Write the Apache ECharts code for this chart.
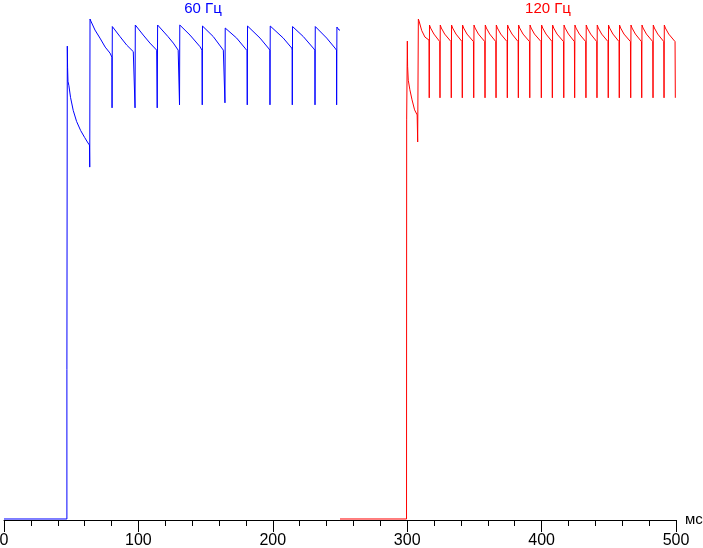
<!DOCTYPE html>
<html>
<head>
<meta charset="utf-8">
<script src="https://cdn.jsdelivr.net/npm/echarts@6/dist/echarts.min.js"></script>
<style>html,body{margin:0;padding:0;background:#fff}#c{width:703px;height:548px}</style>
</head>
<body>
<div id="c"></div>
<script>
// time axis ticks (ms)
var xTicks = [0, 100, 200, 300, 400, 500];
var xUnit = 'мс';
var seriesNames = ['60 Гц', '120 Гц'];

// 60 Hz response: [time ms, brightness %]
var blue60 = [
  [0,0.2],[46.8,0.2],[46.8,30],[47.1,94.4],[47.3,90.2],[47.6,87.4],[48.3,86.5],[49.5,84.2],
  [51.5,81.6],[54,79.4],[57,77.6],[60,76.2],[62.5,75.1],[63.6,74.7],[63.8,70.3],
  [64,99.8],[64.6,99.4],[67.7,97.6],[71.4,96.0],[75.3,94.2],[78.9,93.0],[80.3,92.2],[80.4,82.1],
  [80.6,98.3],[81.3,98.2],[86.3,96.3],[91.3,94.6],[96.2,93.3],[97.4,93.0],[97.5,82.1],
  [97.7,98.6],[98.2,98.4],[103.6,96.6],[108.6,95.0],[113.6,93.6],[114.0,82.1],
  [114.3,98.6],[114.8,98.5],[119,97.2],[122,96.3],[126,95.0],[129.6,93.6],[130.6,82.7],
  [130.8,98.6],[131.7,98.4],[138.4,96.6],[145.8,94.3],[147.3,93.6],[147.5,82.7],
  [147.7,98.4],[148.3,98.4],[155.7,96.3],[163.2,93.6],[164.3,93.3],[164.4,83.1],
  [164.6,98.0],[165.2,98.0],[173.1,96.0],[179.3,94.0],[180.8,93.5],[181.0,82.7],
  [181.2,98.4],[181.8,98.4],[190.5,96.0],[196.7,94.0],[197.8,93.6],[197.9,82.7],
  [198.1,98.4],[198.4,98.4],[207.8,96.0],[214.1,94.0],[214.4,93.6],[214.5,82.7],
  [214.7,98.3],[215.3,98.3],[222.7,96.3],[230.1,94.0],[231.3,93.6],[231.4,82.7],
  [231.6,98.3],[231.9,98.3],[240.1,96.0],[246.3,94.0],[247.4,93.6],[247.5,82.7],
  [247.7,98.2],[248.3,98.2],[249.3,97.6],[250,97.6]
];

// 120 Hz response: [time ms, brightness %]
var red120 = [
  [250,0.2],[299.5,0.2],[299.6,79.7],[299.9,79.7],[300.1,95.4],[300.3,90.4],[300.8,87.6],
  [302,85.7],[303.6,83.7],[305.5,81.7],[307.4,80.7],[307.8,75.3],
  [308.3,99.8],[308.8,99.4],[310.8,97.5],[313.2,96.2],[316.2,95.6],[316.4,84.1],
  [316.6,98.6],[317.4,98.0],[319.9,96.8],[324.2,95.3],[324.4,84.1],
  [324.6,98.6],[325.4,98.0],[327.9,96.8],[332.6,95.3],[332.8,84.1],
  [333.0,98.6],[333.8,98.0],[336.3,96.8],[340.8,95.3],[341.0,84.1],
  [341.2,98.6],[342.0,98.0],[344.5,96.8],[349.3,95.3],[349.5,84.1],
  [349.7,98.6],[350.5,98.0],[353.0,96.8],[357.7,95.3],[357.9,84.1],
  [358.1,98.6],[358.9,98.0],[361.4,96.8],[365.9,95.3],[366.1,84.1],
  [366.3,98.6],[367.1,98.0],[369.6,96.8],[374.3,95.3],[374.5,84.1],
  [374.7,98.6],[375.5,98.0],[378.0,96.8],[382.5,95.3],[382.7,84.1],
  [382.9,98.6],[383.7,98.0],[386.2,96.8],[391.0,95.3],[391.2,84.1],
  [391.4,98.6],[392.2,98.0],[394.7,96.8],[399.6,95.3],[399.8,84.1],
  [400.0,98.6],[400.8,98.0],[403.3,96.8],[407.8,95.3],[408.0,84.1],
  [408.2,98.6],[409.0,98.0],[411.5,96.8],[416.3,95.3],[416.5,84.1],
  [416.7,98.6],[417.5,98.0],[420.0,96.8],[424.4,95.3],[424.6,84.1],
  [424.8,98.6],[425.6,98.0],[428.1,96.8],[432.8,95.3],[433.0,84.1],
  [433.2,98.6],[434.0,98.0],[436.5,96.8],[441.0,95.3],[441.2,84.1],
  [441.4,98.6],[442.2,98.0],[444.7,96.8],[449.4,95.3],[449.6,84.1],
  [449.8,98.6],[450.6,98.0],[453.1,96.8],[457.6,95.3],[457.8,84.1],
  [458.0,98.6],[458.8,98.0],[461.3,96.8],[466.1,95.3],[466.3,84.1],
  [466.5,98.6],[467.3,98.0],[469.8,96.8],[474.3,95.3],[474.5,84.1],
  [474.7,98.6],[475.5,98.0],[478.0,96.8],[482.7,95.3],[482.9,84.1],
  [483.1,98.6],[483.9,98.0],[486.4,96.8],[490.9,95.3],[491.1,84.1],
  [491.3,98.6],[492.1,98.0],[494.6,96.8],[499.3,95.3],[499.5,84.1]
];

var chart = echarts.init(document.getElementById('c'), null, {renderer: 'canvas'});
var font = 'Arial, "Liberation Sans", sans-serif';
chart.setOption({
  animation: false,
  backgroundColor: '#ffffff',
  textStyle: {fontFamily: font},
  grid: {left: 4, right: 27, top: 18, bottom: 28, containLabel: false, outerBoundsMode: 'none'},
  xAxis: {
    type: 'value',
    min: xTicks[0], max: xTicks[xTicks.length - 1], interval: 100,
    name: xUnit, nameLocation: 'end', nameGap: 9,
    nameTextStyle: {color: '#000', fontSize: 15, fontFamily: font, verticalAlign: 'middle'},
    axisLine: {show: true, lineStyle: {color: '#000', width: 1}},
    axisTick: {show: true, length: 12, lineStyle: {color: '#000', width: 1}},
    minorTick: {show: true, splitNumber: 5, length: 6, lineStyle: {color: '#000', width: 1}},
    splitLine: {show: false},
    axisLabel: {color: '#000', fontSize: 16, fontFamily: font, margin: 13}
  },
  yAxis: {type: 'value', min: 0, max: 100, show: false, splitLine: {show: false}},
  graphic: [
    {type: 'text', x: 203, y: 1, style: {text: seriesNames[0], fill: '#0000ff', font: '15px ' + font, textAlign: 'center', textVerticalAlign: 'top'}},
    {type: 'text', x: 548, y: 1, style: {text: seriesNames[1], fill: '#ff0000', font: '15px ' + font, textAlign: 'center', textVerticalAlign: 'top'}}
  ],
  series: [
    {name: seriesNames[0], type: 'line', data: blue60, showSymbol: false, symbol: 'none', lineStyle: {color: '#0000ff', width: 1}, silent: true},
    {name: seriesNames[1], type: 'line', data: red120, showSymbol: false, symbol: 'none', lineStyle: {color: '#ff0000', width: 1}, silent: true}
  ]
});
</script>
</body>
</html>
